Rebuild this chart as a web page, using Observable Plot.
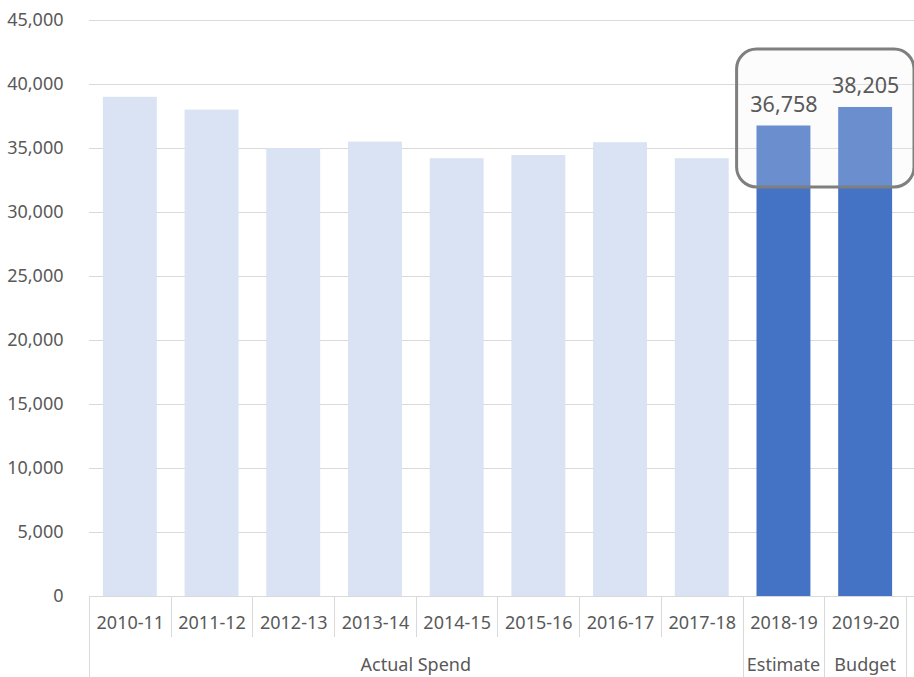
<!DOCTYPE html>
<html>
<head>
<meta charset="utf-8">
<script src="https://cdn.jsdelivr.net/npm/d3@7"></script>
<script src="https://cdn.jsdelivr.net/npm/@observablehq/plot@0.6"></script>
<style>
  html, body { margin: 0; padding: 0; background: #ffffff; }
  svg { display: block; }
</style>
</head>
<body>
<div id="chart"></div>
<script>
// ---- data ----
const years = ["2010-11", "2011-12", "2012-13", "2013-14", "2014-15", "2015-16", "2016-17", "2017-18", "2018-19", "2019-20"];
const values = [39000, 38000, 35000, 35500, 34200, 34450, 35450, 34200, 36758, 38205];
const groupOf = ["Actual Spend", "Actual Spend", "Actual Spend", "Actual Spend", "Actual Spend", "Actual Spend", "Actual Spend", "Actual Spend", "Estimate", "Budget"];
const groups = ["Actual Spend", "Estimate", "Budget"];
const yTicks = [0, 5000, 10000, 15000, 20000, 25000, 30000, 35000, 40000, 45000];
const highlighted = ["2018-19", "2019-20"];
const boxValueRange = [31950, 42730];

const data = years.map((year, i) => ({
  year, value: values[i], group: groupOf[i], highlight: highlighted.includes(year)
}));

const fmt = d3.format(",");
const FONT = "'Noto Sans', 'Open Sans', sans-serif";
const GRID = "#D9D9D9";
const TEXT = "#595959";

const plot = Plot.plot({
  width: 914,
  height: 677,
  marginLeft: 89,
  marginRight: 8,
  marginTop: 20,
  marginBottom: 81,
  style: { fontFamily: FONT, fontSize: "18px", color: TEXT, background: "#ffffff", overflow: "visible" },
  x: { domain: years, paddingInner: 0.34, paddingOuter: 0.17, round: false, label: null },
  y: { domain: [0, 45000], label: null },
  marks: [
    Plot.gridY(yTicks, { stroke: GRID, strokeOpacity: 1, strokeWidth: 1, insetRight: -8 }),
    Plot.axisY(yTicks, { tickSize: 0, tickPadding: 26, tickFormat: fmt, fill: TEXT, fontSize: 18, label: null }),
    Plot.axisX({ tickSize: 0, tickPadding: 20, fill: TEXT, fontSize: 18, label: null }),
    Plot.barY(data, { x: "year", y: "value", fill: d => d.highlight ? "#4472C4" : "#DAE3F3" }),
    Plot.ruleY([0], { stroke: GRID, strokeWidth: 1 }),
    Plot.text(data.filter(d => d.highlight), {
      x: "year", y: "value", text: d => fmt(d.value),
      dy: -21, fill: TEXT, fontSize: 21.5, fontFamily: FONT
    })
  ]
});

document.getElementById("chart").appendChild(plot);

// ---- annotation & two-level axis, positioned via the plot's own scales ----
const xs = plot.scale("x");
const ys = plot.scale("y");
const step = xs.step, bw = xs.bandwidth;
const bandLeft = c => xs.apply(c) - (step - bw) / 2;
const bandRight = c => bandLeft(c) + step;
const svg = d3.select(plot);
const y0 = ys.apply(0);
const H = 677;

// highlight box (inserted beneath the value labels)
const labelGroup = plot.lastElementChild;
const bx0 = bandLeft(highlighted[0]) - 6;
const bx1 = bandRight(highlighted[highlighted.length - 1]) + 8;
const by0 = ys.apply(boxValueRange[1]);
const by1 = ys.apply(boxValueRange[0]);
const ns = "http://www.w3.org/2000/svg";
const rect = document.createElementNS(ns, "rect");
rect.setAttribute("x", bx0);
rect.setAttribute("y", by0);
rect.setAttribute("width", bx1 - bx0);
rect.setAttribute("height", by1 - by0);
rect.setAttribute("rx", 20);
rect.setAttribute("ry", 20);
rect.setAttribute("fill", "#F2F2F2");
rect.setAttribute("fill-opacity", 0.22);
rect.setAttribute("stroke", "#7F7F7F");
rect.setAttribute("stroke-width", 3);
plot.insertBefore(rect, labelGroup);

// category dividers
const axisG = svg.append("g").attr("stroke", GRID).attr("stroke-width", 1);
const groupStarts = new Set();
years.forEach((y, i) => { if (i === 0 || groupOf[i] !== groupOf[i - 1]) groupStarts.add(i); });
years.forEach((y, i) => {
  const x = Math.round(bandLeft(y)) + 0.5;
  const full = groupStarts.has(i);
  axisG.append("line").attr("x1", x).attr("x2", x).attr("y1", y0).attr("y2", full ? H : y0 + 41);
});
{
  const x = Math.round(bandRight(years[years.length - 1])) + 0.5;
  axisG.append("line").attr("x1", x).attr("x2", x).attr("y1", y0).attr("y2", H);
}

// group labels
groups.forEach(g => {
  const members = years.filter((y, i) => groupOf[i] === g);
  const cx = (bandLeft(members[0]) + bandRight(members[members.length - 1])) / 2;
  svg.append("text")
    .attr("x", cx).attr("y", 671)
    .attr("text-anchor", "middle")
    .attr("fill", TEXT)
    .attr("font-family", FONT)
    .attr("font-size", 18)
    .text(g);
});
</script>
</body>
</html>
